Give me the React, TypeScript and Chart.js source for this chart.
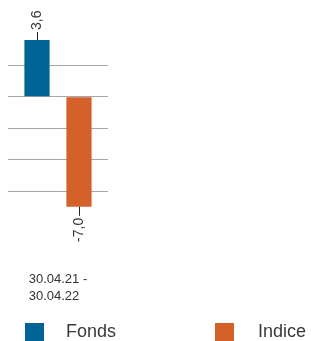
import React, { useEffect, useRef } from "react";
import { Chart, registerables } from "chart.js";

Chart.register(...registerables);

const categories = [["30.04.21 -", "30.04.22"]];
const seriesNames = ["Fonds", "Indice"];
const fondsValues = [3.6];
const indiceValues = [-7.0];
const seriesColors = ["#006496", "#D4602A"];
const gridTicks = [2, 0, -2, -4, -6];
const FONT = "'Liberation Sans', Arial, sans-serif";

const valueLabelPlugin = {
  id: "valueLabels",
  afterDatasetsDraw(chart: any) {
    const ctx = chart.ctx;
    chart.data.datasets.forEach((ds: any, di: number) => {
      const meta = chart.getDatasetMeta(di);
      meta.data.forEach((bar: any, i: number) => {
        const v = ds.data[i];
        const x = bar.x;
        const y = bar.y;
        const up = v >= 0;
        const tickEnd = up ? y - 8 : y + 9;
        ctx.save();
        ctx.strokeStyle = "#222";
        ctx.lineWidth = 1;
        ctx.beginPath();
        ctx.moveTo(Math.round(x) + 0.5, y);
        ctx.lineTo(Math.round(x) + 0.5, tickEnd);
        ctx.stroke();
        const text = v.toFixed(1).replace(".", ",");
        ctx.translate(x, up ? tickEnd - 2 : tickEnd + 2);
        ctx.rotate(-Math.PI / 2);
        ctx.font = `14px ${FONT}`;
        ctx.fillStyle = "#333";
        ctx.textBaseline = "middle";
        ctx.textAlign = up ? "left" : "right";
        ctx.fillText(text, 0, 0);
        ctx.restore();
      });
    });
  },
};

const categoryLabelPlugin = {
  id: "categoryLabels",
  afterDraw(chart: any) {
    const ctx = chart.ctx;
    const xScale = chart.scales.x;
    ctx.save();
    ctx.font = `13px ${FONT}`;
    ctx.fillStyle = "#333";
    ctx.textBaseline = "alphabetic";
    ctx.textAlign = "left";
    chart.data.labels.forEach((lab: string[], i: number) => {
      const cx = xScale.getPixelForTick(i);
      const w = Math.max(...lab.map((l) => ctx.measureText(l).width));
      lab.forEach((line, li) => {
        ctx.fillText(line, cx - w / 2, 283 + li * 16.5);
      });
    });
    ctx.restore();
  },
};

export default function App() {
  const ref = useRef<HTMLCanvasElement | null>(null);
  useEffect(() => {
    if (!ref.current) return;
    const chart = new Chart(ref.current, {
      type: "bar",
      data: {
        labels: categories as any,
        datasets: [
          { label: seriesNames[0], data: fondsValues, backgroundColor: seriesColors[0] },
          { label: seriesNames[1], data: indiceValues, backgroundColor: seriesColors[1] },
        ],
      },
      options: {
        animation: false,
        responsive: true,
        maintainAspectRatio: false,
        layout: { padding: { left: 8, right: 203, top: 18, bottom: 87 } },
        datasets: { bar: { categoryPercentage: 0.84, barPercentage: 0.6 } } as any,
        plugins: { legend: { display: false }, tooltip: { enabled: false } },
        scales: {
          x: {
            grid: { display: false, drawTicks: false },
            border: { display: false },
            ticks: { display: false },
          },
          y: {
            min: -10,
            max: 5,
            afterBuildTicks: (scale: any) => {
              scale.ticks = gridTicks.map((v) => ({ value: v }));
            },
            grid: { color: "#a6a6a6", lineWidth: 1, drawTicks: false },
            border: { display: false },
            ticks: { display: false },
          },
        },
      },
      plugins: [valueLabelPlugin, categoryLabelPlugin],
    });
    return () => chart.destroy();
  }, []);

  const legendText: React.CSSProperties = {
    position: "absolute",
    top: 322,
    font: `18px/18px ${FONT}`,
    color: "#3a3a3a",
    whiteSpace: "nowrap",
  };
  const box: React.CSSProperties = { position: "absolute", top: 323, width: 19, height: 19 };

  return (
    <div style={{ position: "absolute", left: 0, top: 0, width: 311, height: 341, overflow: "hidden", background: "#fff" }}>
      <div style={{ position: "absolute", left: 0, top: 0, width: 311, height: 341 }}>
        <canvas ref={ref} />
      </div>
      <div style={{ ...box, left: 25, background: seriesColors[0] }} />
      <div style={{ ...legendText, left: 66 }}>{seriesNames[0]}</div>
      <div style={{ ...box, left: 215, background: seriesColors[1] }} />
      <div style={{ ...legendText, left: 258 }}>{seriesNames[1]}</div>
    </div>
  );
}
